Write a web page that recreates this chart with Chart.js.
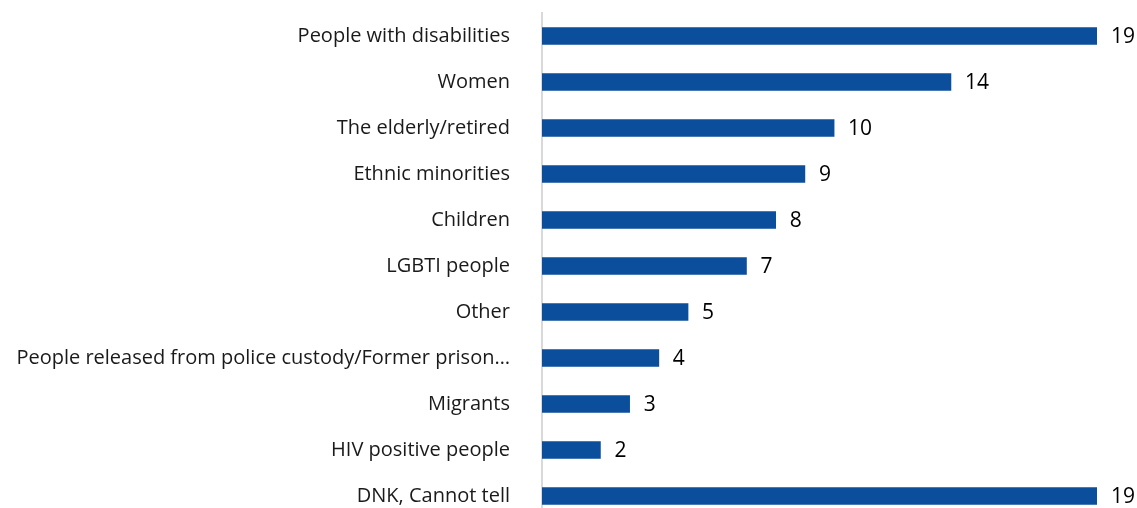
<!DOCTYPE html>
<html>
<head>
<meta charset="utf-8">
<script src="https://cdn.jsdelivr.net/npm/chart.js@4/dist/chart.umd.min.js"></script>
<style>
  html, body { margin: 0; padding: 0; background: #ffffff; overflow: hidden; }
  #chart { display: block; }
</style>
</head>
<body>
<canvas id="chart" width="1137" height="519"></canvas>
<script>
// Groups named, in display order
const categories = [
  "People with disabilities",
  "Women",
  "The elderly/retired",
  "Ethnic minorities",
  "Children",
  "LGBTI people",
  "Other",
  "People released from police custody/Former prison\u2026",
  "Migrants",
  "HIV positive people",
  "DNK, Cannot tell"
];
const counts = [19, 14, 10, 9, 8, 7, 5, 4, 3, 2, 19];

const barColor = "#0b4f9c";
const labelFont = "'Open Sans', sans-serif";

// Writes each bar's value just past its end
const valueLabels = {
  id: "valueLabels",
  afterDatasetsDraw(chart) {
    const ctx = chart.ctx;
    const meta = chart.getDatasetMeta(0);
    ctx.save();
    ctx.fillStyle = "#000000";
    ctx.font = "21px " + labelFont;
    ctx.textAlign = "left";
    ctx.textBaseline = "middle";
    meta.data.forEach((bar, i) => {
      ctx.fillText(String(counts[i]), bar.x + 14, bar.y + 1);
    });
    ctx.restore();
  }
};

new Chart(document.getElementById("chart"), {
  type: "bar",
  data: {
    labels: categories,
    datasets: [{
      data: counts,
      backgroundColor: barColor,
      borderWidth: 0,
      barThickness: 17
    }]
  },
  options: {
    indexAxis: "y",
    responsive: false,
    animation: false,
    layout: { padding: { top: 13, right: 40, bottom: 0, left: 0 } },
    plugins: {
      legend: { display: false },
      tooltip: { enabled: false }
    },
    scales: {
      x: {
        display: false,
        min: 0,
        max: 19
      },
      y: {
        grid: { display: false, drawTicks: false },
        border: { display: true, color: "#d9d9d9", width: 2 },
        ticks: {
          color: "#1a1a1a",
          font: { family: labelFont, size: 20 },
          padding: 32
        },
        afterFit(scale) {
          scale.width = 542;
          scale.paddingTop = 0;
          scale.paddingBottom = 0;
        }
      }
    }
  },
  plugins: [valueLabels]
});
</script>
</body>
</html>
